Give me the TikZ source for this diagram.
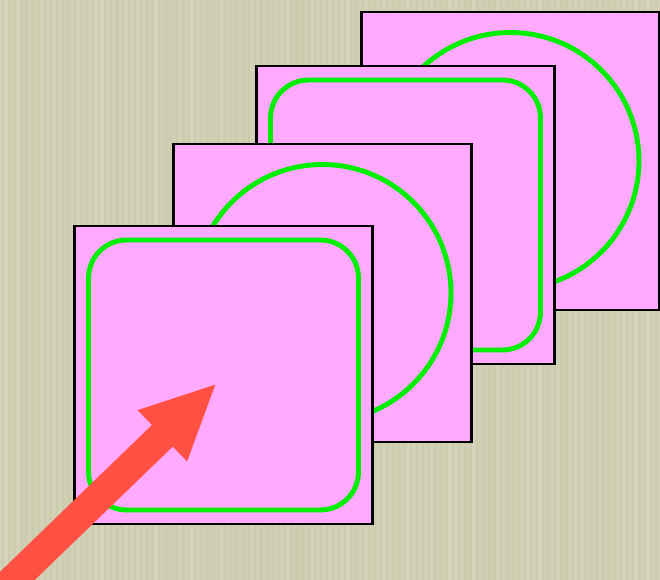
\documentclass[tikz,border=0pt]{standalone}
\usetikzlibrary{arrows.meta, positioning}
\definecolor{paper}{HTML}{CDCBAE}
\definecolor{cardpink}{HTML}{FFAAFF}
\definecolor{loopgreen}{HTML}{00EE00}
\definecolor{arrowred}{HTML}{FF5044}
\tikzset{
  card/.style={rectangle, draw=black, line width=1.3pt, fill=cardpink, minimum size=5.96cm, inner sep=0pt},
  roundsq/.style={rectangle, rounded corners=0.76cm, draw=loopgreen, line width=2.8pt, minimum size=5.4cm, inner sep=0pt},
  ring/.style={circle, draw=loopgreen, line width=2.8pt, minimum size=5.14cm, inner sep=0pt},
  pointer/.style={draw=arrowred, line width=0.6cm, -{Triangle[length=1.52cm, width=1.3cm, fill=arrowred]}}
}
\begin{document}
\begin{tikzpicture}[x=0.02cm, y=-0.02cm]

  \useasboundingbox (0,0) rectangle (660,580);
  \clip (0,0) rectangle (660,580);
  \fill[paper] (0,0) rectangle (660,580);
  % fibres of the paper
  \pgfmathsetseed{11}
  \foreach \i in {0,6,...,660}{
    \pgfmathsetmacro\op{0.04+0.16*rnd}
    \draw[white, opacity=\op, line width=2pt] (\i,0) -- (\i,580);
  }

  \node (card4) [card] at (510.5,161) {};
  \node (shape4) [ring] at (card4.center) {};
  \node (card3) [card] at (405.5,215) {};
  \node (shape3) [roundsq] at (card3.center) {};
  \node (card2) [card] at (322.5,293) {};
  \node (shape2) [ring] at (card2.center) {};
  \node (card1) [card] at (223.5,375) {};
  \node (shape1) [roundsq] at (card1.center) {};

  \coordinate (tail) at (-20,612);
  \coordinate (tip) at (217,383);
  \draw [pointer] (tail) -- (tip);

\end{tikzpicture}
\end{document}
